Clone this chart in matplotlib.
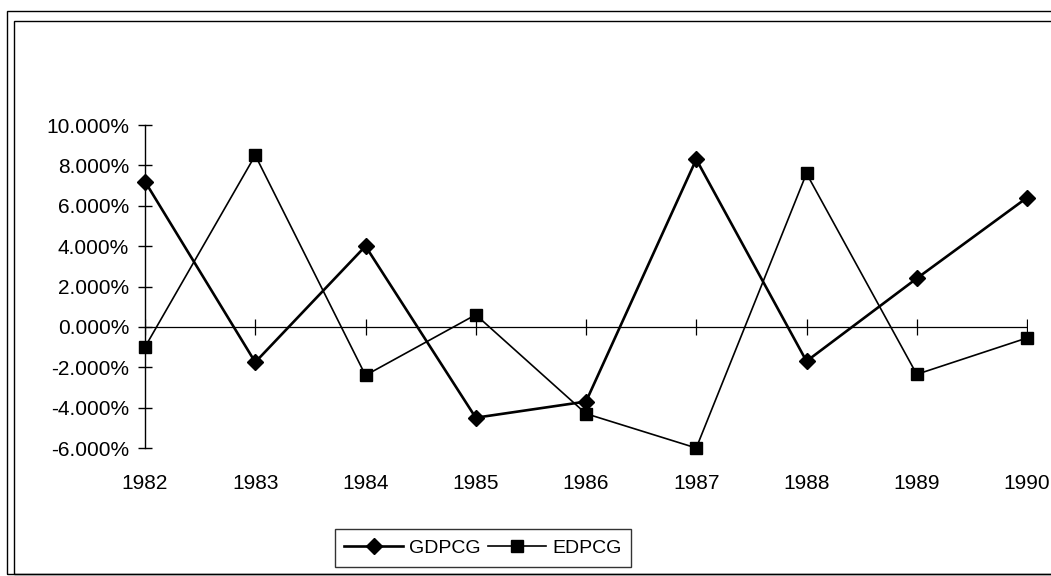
import matplotlib
matplotlib.use("Agg")
import matplotlib.pyplot as plt
from matplotlib.patches import Rectangle
from matplotlib.ticker import FuncFormatter

YEARS = [1982, 1983, 1984, 1985, 1986, 1987, 1988, 1989, 1990]
GDPCG = [7.2, -1.75, 4.0, -4.5, -3.7, 8.3, -1.7, 2.4, 6.4]
EDPCG = [-1.0, 8.5, -2.4, 0.6, -4.3, -6.0, 7.6, -2.35, -0.55]
Y_TICKS = [-6, -4, -2, 0, 2, 4, 6, 8, 10]

plt.rcParams["font.family"] = ["Liberation Sans", "DejaVu Sans"]

W, H = 1051, 576
fig = plt.figure(figsize=(W / 100, H / 100), dpi=100)

# double frame around the chart area
fig.patches.append(Rectangle((7 / W, 1 - 574 / H), 1.1, (574 - 11) / H,
                             transform=fig.transFigure, fill=False,
                             ec="black", lw=1.0))
fig.patches.append(Rectangle((14 / W, 1 - 574 / H), 1.1, (574 - 21) / H,
                             transform=fig.transFigure, fill=False,
                             ec="black", lw=1.0))

ax = fig.add_axes([145 / W, 1 - 448 / H, (1027 - 145) / W, (448 - 125) / H])
ax.set_xlim(YEARS[0], YEARS[-1])
ax.set_ylim(-6, 10)

for s in ["top", "right", "bottom"]:
    ax.spines[s].set_visible(False)
ax.spines["left"].set_linewidth(1.0)

ax.set_yticks(Y_TICKS)
ax.yaxis.set_major_formatter(FuncFormatter(lambda v, p: f"{v:.3f}%"))
ax.tick_params(axis="y", direction="inout", length=10, width=1.0,
               labelsize=15, pad=6.5)

ax.set_xticks(YEARS)
ax.set_xticklabels([str(y) for y in YEARS])
ax.tick_params(axis="x", length=0, labelsize=15, pad=19)

# category axis drawn through zero with crossing tick marks
ax.axhline(0, color="black", lw=0.9, zorder=1)
ax.plot(YEARS, [0] * len(YEARS), ls="none", marker="|", ms=11,
        mew=0.9, color="black", zorder=1)

ax.plot(YEARS, GDPCG, color="black", lw=1.9, marker="D", ms=8,
        label="GDPCG", zorder=3, clip_on=False)
ax.plot(YEARS, EDPCG, color="black", lw=1.2, marker="s", ms=9,
        label="EDPCG", zorder=3, clip_on=False)

leg = fig.legend(loc="center", bbox_to_anchor=(483 / W, 1 - 548 / H),
                 ncol=2, fontsize=14, frameon=True, fancybox=False,
                 handlelength=3.0, handletextpad=0.3, columnspacing=0.4,
                 borderpad=0.5, borderaxespad=0)
leg.get_frame().set_edgecolor("black")
leg.get_frame().set_linewidth(1.0)

fig.savefig("out.png", dpi=100)
